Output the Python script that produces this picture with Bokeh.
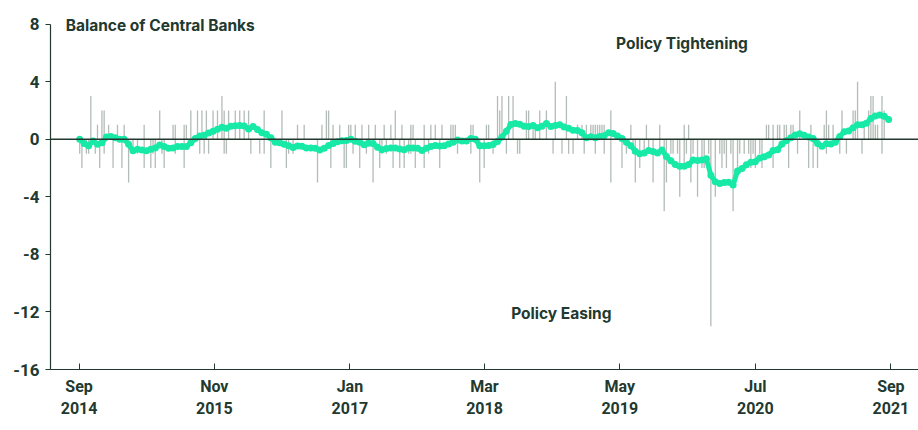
import numpy as np
import pandas as pd
from bokeh.plotting import figure
from bokeh.models import Span, Label, FixedTicker, DatetimeAxis, Range1d
from bokeh.embed import file_html
from bokeh.resources import INLINE

# ---------------- data ----------------
series_start = "2014-09-03"          # first observation, biweekly for the balance line
# Net balance of central bank policy moves (smoothed), one value every two weeks
balance = [
    0.0, -0.3, -0.45, -0.12, -0.35, -0.25, 0.15, 0.2, 0.1, 0.0,
    0.0, -0.35, -0.8, -0.7, -0.75, -0.8, -0.7, -0.6, -0.4, -0.5,
    -0.62, -0.6, -0.5, -0.5, -0.5, -0.25, 0.05, 0.22, 0.28, 0.44,
    0.55, 0.7, 0.83, 0.77, 0.9, 0.93, 0.95, 0.92, 0.72, 0.88,
    0.67, 0.45, 0.34, 0.1, -0.2, -0.25, -0.35, -0.45, -0.58, -0.47,
    -0.48, -0.6, -0.6, -0.62, -0.74, -0.63, -0.44, -0.3, -0.18, -0.1,
    -0.08, 0.0, -0.14, -0.2, -0.38, -0.28, -0.3, -0.55, -0.73, -0.65,
    -0.6, -0.6, -0.68, -0.73, -0.6, -0.6, -0.62, -0.78, -0.62, -0.5,
    -0.44, -0.47, -0.45, -0.33, -0.2, -0.06, -0.12, -0.12, 0.05, 0.0,
    -0.45, -0.45, -0.44, -0.37, -0.15, 0.15, 0.55, 1.02, 1.1, 1.05,
    0.9, 0.88, 0.95, 0.8, 0.9, 1.1, 0.88, 0.95, 1.0, 0.86,
    0.76, 0.63, 0.6, 0.45, 0.1, 0.18, 0.1, 0.2, 0.24, 0.45,
    0.4, 0.23, 0.05, -0.2, -0.45, -0.83, -1.0, -0.95, -0.78, -0.85,
    -0.95, -0.74, -1.2, -1.5, -1.75, -1.88, -1.87, -1.75, -1.45, -1.48,
    -1.45, -1.36, -2.5, -2.95, -3.08, -3.0, -2.98, -3.18, -2.2, -2.03,
    -1.78, -1.6, -1.56, -1.3, -1.22, -1.1, -0.78, -0.73, -0.33, -0.1,
    0.1, 0.3, 0.38, 0.27, 0.15, 0.05, -0.3, -0.48, -0.32, -0.33,
    -0.2, 0.2, 0.52, 0.58, 0.8, 1.0, 1.0, 1.12, 1.45, 1.62,
    1.68, 1.6, 1.37,
]

# Weekly counts of hikes (week number since series_start, count)
hike_weeks = [5, 8, 10, 11, 13, 17, 20, 29, 36, 42,
              43, 47, 48, 50, 53, 55, 57, 60, 62, 64,
              65, 67, 70, 72, 74, 76, 83, 91, 98, 101,
              109, 111, 112, 114, 117, 121, 122, 124, 127, 130,
              133, 137, 140, 142, 145, 149, 150, 155, 158, 160,
              163, 167, 168, 169, 176, 177, 183, 184, 188, 189,
              190, 193, 195, 201, 202, 204, 205, 207, 210, 214,
              219, 224, 226, 228, 230, 231, 232, 233, 234, 235,
              236, 239, 248, 255, 261, 272, 274, 309, 310, 312,
              314, 315, 317, 318, 320, 321, 324, 329, 335, 336,
              337, 339, 343, 348, 349, 350, 353, 355, 356, 357,
              358, 359, 361, 362]
hike_values = [3, 1, 2, 2, 1, 1, 1, 1, 2, 1,
               1, 1, 1, 2, 2, 2, 2, 2, 2, 3,
               2, 2, 2, 2, 2, 2, 2, 2, 1, 1,
               1, 2, 2, 1, 1, 1, 1, 1, 1, 1,
               1, 1, 1, 2, 1, 1, 1, 1, 1, 1,
               1, 1, 1, 1, 1, 1, 1, 1, 3, 2,
               3, 3, 3, 2, 2, 1, 1, 2, 2, 4,
               3, 1, 1, 1, 1, 1, 1, 1, 1, 1,
               1, 2, 1, 1, 1, 1, 1, 1, 1, 1,
               1, 1, 1, 1, 1, 1, 2, 1, 1, 2,
               1, 1, 2, 2, 2, 4, 1, 2, 3, 3,
               1, 1, 3, 2]

# Weekly counts of cuts (negative)
cut_weeks = [0, 1, 3, 4, 7, 9, 11, 15, 19, 22,
             24, 26, 29, 32, 33, 34, 37, 38, 43, 47,
             54, 56, 58, 65, 66, 77, 81, 83, 86, 93,
             94, 96, 107, 113, 119, 120, 123, 126, 129, 132,
             135, 136, 138, 141, 144, 146, 148, 149, 151, 155,
             157, 162, 170, 176, 180, 182, 186, 192, 197, 198,
             213, 217, 220, 222, 227, 232, 236, 239, 244, 246,
             249, 250, 252, 254, 256, 258, 261, 263, 264, 266,
             267, 269, 270, 272, 273, 275, 276, 278, 280, 281,
             283, 284, 286, 288, 289, 290, 291, 293, 294, 296,
             297, 299, 301, 302, 303, 304, 306, 307, 312, 319,
             323, 328, 330, 332, 336, 342, 345, 352, 361]
cut_values = [-1, -2, -1, -1, -1, -2, -1, -2, -2, -3,
              -1, -1, -2, -2, -1, -2, -1, -2, -1, -2,
              -1, -1, -1, -1, -1, -1, -1, -1, -2, -2,
              -1, -1, -3, -2, -2, -2, -1, -2, -1, -3,
              -2, -1, -1, -2, -2, -2, -1, -1, -2, -2,
              -1, -2, -1, -1, -3, -2, -1, -1, -1, -1,
              -1, -1, -1, -1, -1, -1, -1, -3, -2, -1,
              -1, -3, -2, -1, -1, -3, -1, -5, -3, -1,
              -1, -1, -4, -2, -1, -3, -1, -4, -2, -2,
              -1, -13, -4, -1, -2, -1, -2, -1, -5, -2,
              -1, -1, -1, -2, -1, -2, -1, -2, -2, -2,
              -1, -2, -2, -2, -1, -1, -1, -1, -1]

tick_dates = ["2014-09-01", "2015-11-01", "2017-01-01", "2018-03-01",
              "2019-05-01", "2020-07-01", "2021-09-01"]
tick_months = ["Sep", "Nov", "Jan", "Mar", "May", "Jul", "Sep"]
tick_years = ["2014", "2015", "2017", "2018", "2019", "2020", "2021"]
y_ticks = [8, 4, 0, -4, -8, -12, -16]
y_tick_labels = ["8", "4", "0", "-4", "-8", "-12", "-16"]

title_text = "Balance of Central Banks"
label_tight = "Policy Tightening"
label_ease = "Policy Easing"

# ---------------- build ----------------
t0 = pd.Timestamp(series_start)
line_x = t0 + pd.to_timedelta(np.arange(len(balance)) * 14, unit="D")
hike_x = t0 + pd.to_timedelta(np.array(hike_weeks) * 7, unit="D")
cut_x = t0 + pd.to_timedelta(np.array(cut_weeks) * 7, unit="D")

DARK = "#22392f"
GREEN = "#17e9a6"
GRAY = "#b3bcb7"
TICK_FONT = "Roboto"
TEXT_FONT = "Inter"

p = figure(width=918, height=430, output_backend="svg", toolbar_location=None,
           x_axis_type="datetime",
           x_range=Range1d(pd.Timestamp("2014-06-03"), pd.Timestamp("2021-11-27")),
           y_range=Range1d(-16, 8.6),
           min_border_left=50, min_border_right=0, min_border_top=15,
           min_border_bottom=61)
p.outline_line_color = None
p.grid.grid_line_color = None
p.background_fill_color = "white"
p.border_fill_color = "white"

p.segment(x0=hike_x, y0=0, x1=hike_x, y1=hike_values, line_color=GRAY, line_width=1.3)
p.segment(x0=cut_x, y0=0, x1=cut_x, y1=cut_values, line_color=GRAY, line_width=1.3)

p.add_layout(Span(location=0, dimension="width", line_color=DARK, line_width=1.3))

p.line(line_x, balance, line_color=GREEN, line_width=5, line_join="round")
p.scatter(line_x, balance, size=7, fill_color=GREEN, line_color=None)

tick_ms = [int(pd.Timestamp(d).value // 10**6) for d in tick_dates]

xa = p.xaxis[0]
xa.ticker = FixedTicker(ticks=tick_ms)
xa.major_label_overrides = {t: m for t, m in zip(tick_ms, tick_months)}
xa.axis_line_color = DARK
xa.axis_line_width = 1.2
xa.major_tick_line_color = DARK
xa.major_tick_in = 6
xa.major_tick_out = 0
xa.minor_tick_line_color = None
xa.major_label_standoff = 7
xa.major_label_text_font = TICK_FONT
xa.major_label_text_font_style = "bold"
xa.major_label_text_font_size = "16px"
xa.major_label_text_color = DARK

xa2 = DatetimeAxis(ticker=FixedTicker(ticks=tick_ms),
                   major_label_overrides={t: y for t, y in zip(tick_ms, tick_years)},
                   axis_line_color=None, major_tick_line_color=None,
                   minor_tick_line_color=None, major_label_standoff=-3,
                   major_label_text_font=TICK_FONT, major_label_text_font_style="bold",
                   major_label_text_font_size="16px", major_label_text_color=DARK)
p.add_layout(xa2, "below")

yax = p.yaxis[0]
yax.ticker = FixedTicker(ticks=y_ticks)
yax.major_label_overrides = {t: s for t, s in zip(y_ticks, y_tick_labels)}
yax.bounds = (-16, 8)
yax.axis_line_color = DARK
yax.axis_line_width = 1.2
yax.major_tick_line_color = DARK
yax.major_tick_in = 0
yax.major_tick_out = 5
yax.minor_tick_line_color = None
yax.major_label_standoff = 6
yax.major_label_text_font = TICK_FONT
yax.major_label_text_font_style = "bold"
yax.major_label_text_font_size = "17px"
yax.major_label_text_color = DARK

p.add_layout(Label(x=pd.Timestamp("2014-07-21"), y=7.92, text=title_text,
                   text_font=TEXT_FONT, text_font_style="bold", text_font_size="15.5px",
                   text_color=DARK, text_baseline="middle", text_align="left"))
p.add_layout(Label(x=pd.Timestamp("2019-11-13"), y=6.67, text=label_tight,
                   text_font=TEXT_FONT, text_font_style="bold", text_font_size="15.5px",
                   text_color=DARK, text_baseline="middle", text_align="center"))
p.add_layout(Label(x=pd.Timestamp("2018-10-29"), y=-12.08, text=label_ease,
                   text_font=TEXT_FONT, text_font_style="bold", text_font_size="15.5px",
                   text_color=DARK, text_baseline="middle", text_align="center"))

open("out.html", "w").write(file_html(p, INLINE))
